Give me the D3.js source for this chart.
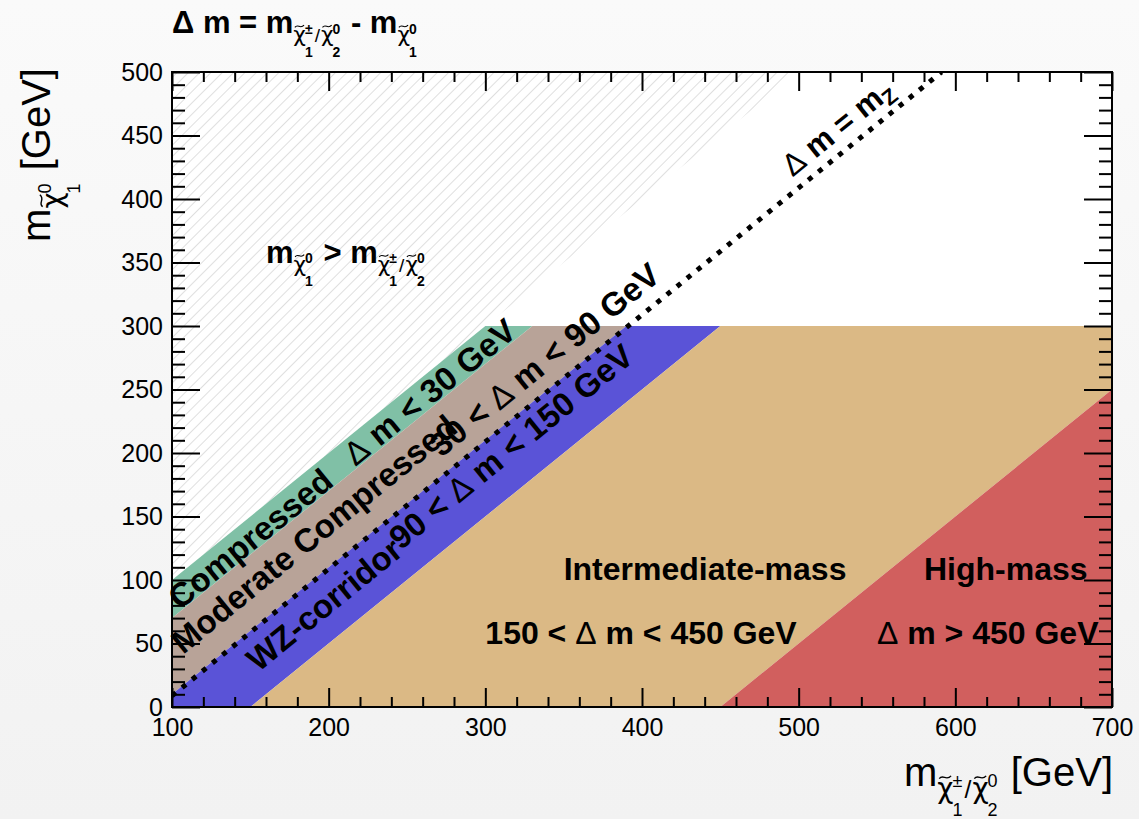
<!DOCTYPE html>
<html>
<head>
<meta charset="utf-8">
<script src="https://cdn.jsdelivr.net/npm/d3@7"></script>
<style>
  body { margin: 0; background: #f6f6f6; }
  svg { display: block; font-family: "Liberation Sans", Arial, Helvetica, sans-serif; }
  svg text { white-space: pre; }
</style>
</head>
<body>
<svg id="chart" width="1139" height="819"></svg>
<script>
// regions of the (chargino/neutralino2, neutralino1) mass plane, split by dm
const regions = ["Compressed", "Moderate Compressed", "WZ-corridor", "Intermediate-mass", "High-mass"];
const dmLow = [0, 30, 90, 150, 450];
const dmHigh = [30, 90, 150, 450, 2000];
const regionColors = ["#80c0a6", "#b8a398", "#5a53d7", "#dbb985", "#d15f5e"];
const mZ = 91.19;
const bandTop = 300;
const xTicks = [100, 200, 300, 400, 500, 600, 700];
const yTicks = [0, 50, 100, 150, 200, 250, 300, 350, 400, 450, 500];

const width = 1139, height = 819;
const svg = d3.select("#chart");

const x = d3.scaleLinear().domain([100, 700]).range([172, 1112]);
const y = d3.scaleLinear().domain([0, 500]).range([707, 72]);
const ang = Math.atan2(y(0) - y(100), x(200) - x(100)) * 180 / Math.PI;

const defs = svg.append("defs");
const bg = defs.append("linearGradient").attr("id", "bg").attr("x1", 0).attr("y1", 0).attr("x2", 0).attr("y2", 1);
bg.append("stop").attr("offset", "0%").attr("stop-color", "#fafafa");
bg.append("stop").attr("offset", "100%").attr("stop-color", "#f2f2f2");
svg.append("rect").attr("width", width).attr("height", height).attr("fill", "url(#bg)");

const hatch = defs.append("pattern").attr("id", "hatch").attr("patternUnits", "userSpaceOnUse")
  .attr("width", 8).attr("height", 8).attr("patternTransform", "rotate(45)");
hatch.append("line").attr("x1", 0).attr("y1", 0).attr("x2", 0).attr("y2", 8)
  .attr("stroke", "#cacaca").attr("stroke-width", 1.2);

defs.append("clipPath").attr("id", "plot").append("rect")
  .attr("x", x(100)).attr("y", y(500)).attr("width", x(700) - x(100)).attr("height", y(0) - y(500));
defs.append("clipPath").attr("id", "bands").append("rect")
  .attr("x", x(100)).attr("y", y(bandTop)).attr("width", x(700) - x(100)).attr("height", y(0) - y(bandTop));

svg.append("rect").attr("x", x(100)).attr("y", y(500))
  .attr("width", x(700) - x(100)).attr("height", y(0) - y(500)).attr("fill", "#fff");

const line = d3.line().x(d => x(d[0])).y(d => y(d[1]));

// forbidden region m(chi1) > m(chi2)
svg.append("path").attr("clip-path", "url(#plot)")
  .attr("d", line([[100, 100], [100, 500], [500, 500]]) + "Z")
  .attr("fill", "url(#hatch)");

svg.append("g").attr("clip-path", "url(#bands)")
  .selectAll("path").data(regions).join("path")
  .attr("d", (_, i) => line([[-500, -500 - dmLow[i]], [1500, 1500 - dmLow[i]],
                            [1500, 1500 - dmHigh[i]], [-500, -500 - dmHigh[i]]]) + "Z")
  .attr("fill", (_, i) => regionColors[i]);

svg.append("path").attr("clip-path", "url(#plot)")
  .attr("d", line([[100, 100 - mZ], [500 + mZ, 500]]))
  .attr("fill", "none").attr("stroke", "#000").attr("stroke-width", 5).attr("stroke-dasharray", "5 8");

// text helpers (Delta drawn thin, like the symbol font)
function txt(parent, px, py, size, weight, t, thinDelta = true) {
  const el = parent.append("text").attr("x", px).attr("y", py).style("font-size", size + "px").attr("fill", "#000");
  t.split(/(Δ)/).forEach(part => {
    if (part) el.append("tspan").style("font-weight", part === "Δ" && thinDelta ? "normal" : weight).text(part);
  });
  return el;
}
const tw = el => el.node().getComputedTextLength();

function drawMath(parent, x0, y0, fs, weight, pieces, thinDelta = true) {
  let cx = x0;
  const cs = fs * 0.7, ss = fs * 0.45;
  pieces.forEach(p => {
    if (typeof p === "string") { cx += tw(txt(parent, cx, y0, fs, weight, p, thinDelta)); return; }
    if (p.slash) { cx += tw(txt(parent, cx, y0 + fs * 0.3, fs * 0.62, "normal", "/")) + 1; return; }
    if (!p.chi) { cx += tw(txt(parent, cx, y0 + fs * 0.2, fs * 0.7, weight, p.sub)); return; }
    const cb = y0 + fs * 0.3;
    const c = txt(parent, cx, cb, cs, "normal", "χ").style("font-family", "DejaVu Sans, sans-serif");
    const w = tw(c);
    const ty = cb - cs * 0.74;
    parent.append("path")
      .attr("d", `M${cx + w * 0.12},${ty + cs * 0.05} C${cx + w * 0.35},${ty - cs * 0.13} ${cx + w * 0.55},${ty + cs * 0.15} ${cx + w * 0.85},${ty - cs * 0.05}`)
      .attr("fill", "none").attr("stroke", "#000").attr("stroke-width", Math.max(1, fs * 0.035));
    let ex = 0;
    if (p.sub) ex = Math.max(ex, tw(txt(parent, cx + w - 1, y0 + fs * 0.76, ss, weight, p.sub)));
    if (p.sup) ex = Math.max(ex, tw(txt(parent, cx + w - 1, y0 + fs * 0.02, ss, weight, p.sup)));
    cx += w + ex + 1;
  });
  return cx;
}

function rotLabel(dx, dy, text, fs) {
  const g = svg.append("g").attr("transform", `translate(${x(dx)},${y(dy)}) rotate(${-ang})`);
  txt(g, 0, 0, fs, "bold", text);
}

rotLabel(105, 76, "Compressed", 33);
rotLabel(217, 189, "Δ m < 30 GeV", 33);
rotLabel(107, 41, "Moderate Compressed", 33);
rotLabel(272, 196, "30 < Δ m < 90 GeV", 33);
rotLabel(155, 27, "WZ-corridor", 33);
rotLabel(246, 123, "90 < Δ m < 150 GeV", 33);

const zg = svg.append("g").attr("transform", `translate(${x(496)},${y(417)}) rotate(${-ang})`);
drawMath(zg, 0, 0, 31, "bold", ["Δ m = m", { sub: "Z" }]);

txt(svg, x(350), y(100), 32, "bold", "Intermediate-mass");
txt(svg, x(300), y(50), 32, "bold", "150 < Δ m < 450 GeV");
txt(svg, x(580), y(100), 32, "bold", "High-mass");
txt(svg, x(550), y(50), 32, "bold", "Δ m > 450 GeV");

drawMath(svg, x(160), y(350), 31, "bold",
  ["m", { chi: true, sub: "1", sup: "0" }, " > m", { chi: true, sub: "1", sup: "±" }, { slash: true }, { chi: true, sub: "2", sup: "0" }]);

// title
drawMath(svg, 172, 33, 31, "bold",
  ["Δ m = m", { chi: true, sub: "1", sup: "±" }, { slash: true }, { chi: true, sub: "2", sup: "0" }, " - m", { chi: true, sub: "1", sup: "0" }], false);

// axes: ROOT style inward ticks on all four sides
const xMinor = d3.range(100, 701, 20).filter(v => v % 100);
const yMinor = d3.range(0, 501, 10).filter(v => v % 50);
const fmt = d3.format("d");

function axis(gen, scale, tr, vals, len, labels, pad) {
  const g = svg.append("g").attr("transform", tr)
    .call(gen(scale).tickValues(vals).tickSize(-len).tickPadding(pad || 0).tickFormat(labels ? fmt : ""));
  g.select(".domain").remove();
  g.selectAll("line").attr("stroke", "#000").attr("stroke-width", 2);
  g.selectAll("text").style("font-size", "25px").style("font-family", "Liberation Sans, Arial, sans-serif").attr("fill", "#000");
  return g;
}
axis(d3.axisBottom, x, `translate(0,${y(0)})`, xTicks, 19, true, 11);
axis(d3.axisBottom, x, `translate(0,${y(0)})`, xMinor, 10, false);
axis(d3.axisTop, x, `translate(0,${y(500)})`, xTicks, 19, false);
axis(d3.axisTop, x, `translate(0,${y(500)})`, xMinor, 10, false);
axis(d3.axisLeft, y, `translate(${x(100)},0)`, yTicks, 28, true, 9);
axis(d3.axisLeft, y, `translate(${x(100)},0)`, yMinor, 13, false);
axis(d3.axisRight, y, `translate(${x(700)},0)`, yTicks, 28, false);
axis(d3.axisRight, y, `translate(${x(700)},0)`, yMinor, 13, false);

svg.append("rect").attr("x", x(100)).attr("y", y(500))
  .attr("width", x(700) - x(100)).attr("height", y(0) - y(500))
  .attr("fill", "none").attr("stroke", "#000").attr("stroke-width", 2);

// axis titles, right/top aligned like ROOT
const xt = svg.append("g");
const xw = drawMath(xt, 0, 0, 40, "normal", ["m", { chi: true, sub: "1", sup: "±" }, { slash: true }, { chi: true, sub: "2", sup: "0" }, " [GeV]"]);
xt.attr("transform", `translate(${1113 - xw},786)`);

const yt = svg.append("g");
const yw = drawMath(yt, 0, 0, 40, "normal", ["m", { chi: true, sub: "1", sup: "0" }, " [GeV]"]);
yt.attr("transform", `translate(50,68) rotate(-90) translate(${-yw},0)`);
</script>
</body>
</html>
